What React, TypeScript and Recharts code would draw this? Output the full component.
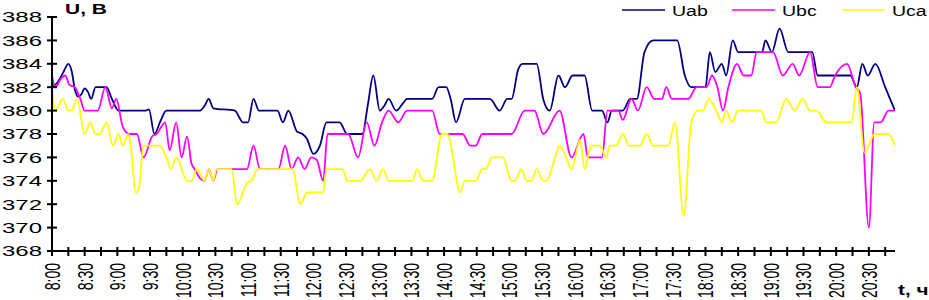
import React from 'react';
import { LineChart, Line, XAxis, YAxis } from 'recharts';

// minutes after 8:00, voltage
const UAB: [number, number][] = [
  [0, 382], [5, 382.4], [10, 383.2], [15, 384], [18, 383.4], [21, 381.8], [24, 381.2], [27, 381.4],
  [30, 381.9], [33, 381.6], [36, 381], [40, 382], [50, 382], [55, 381], [61, 380], [86, 380],
  [89, 380.1], [94, 378], [100, 379.2], [105, 380], [136, 380], [140, 380.4], [144, 381], [148, 380.2],
  [168, 380], [172, 379.4], [175, 379], [180, 379], [185, 381], [190, 380], [207, 380], [212, 379],
  [217, 380], [225, 378.2], [230, 378], [234, 377.6], [240, 376.3], [246, 377], [252, 379], [264, 379],
  [271, 378], [285, 378], [290, 380.5], [295, 383], [301, 380], [305, 380.4], [309, 381], [316, 380],
  [322, 380.6], [326, 381], [349, 381], [355, 382], [362, 382], [366, 381], [371, 379], [379, 381],
  [402, 381], [411, 380], [418, 381], [422, 381], [428, 383.5], [432, 384], [445, 384], [451, 381],
  [457, 380], [465, 383], [471, 382], [478, 383], [489, 383], [496, 380], [505, 380], [510, 379],
  [514, 380], [524, 380], [531, 381], [537, 381], [544, 385], [552, 386], [574, 386], [581, 383],
  [587, 382], [600, 382], [604, 385], [609, 383.3], [615, 384], [619, 383], [625, 386], [630, 385],
  [652, 385], [655, 386], [661, 385], [668, 387], [676, 385], [698, 385], [703, 383], [733, 383],
  [739, 382], [744, 384], [749, 383], [756, 384], [765, 382], [774, 380],
];

const UBC: [number, number][] = [
  [0, 383], [3, 382], [8, 382.7], [12, 383], [16, 382.2], [21, 382], [26, 381], [30, 380],
  [42, 380], [49, 382], [55, 380.2], [59, 381], [65, 378.6], [71, 378], [78, 378], [84, 376],
  [92, 377.8], [96, 378], [104, 379], [108, 376.6], [114, 379], [119, 376], [124, 377.8], [128, 375.5],
  [131, 375], [136, 374.2], [140, 374], [144, 375], [148, 374], [152, 375], [179, 375], [185, 377],
  [191, 375], [208, 375], [214, 377], [220, 375], [226, 376], [232, 375], [238, 376], [243, 375.8],
  [249, 374], [253, 378], [272, 378], [281, 376], [289, 379], [296, 377], [303, 379], [309, 380],
  [318, 379], [326, 380], [349, 380], [356, 378], [377, 378], [384, 377], [389, 377], [395, 378],
  [422, 378], [434, 380], [443, 380], [451, 378], [466, 380], [477, 376], [488, 378], [492, 376],
  [505, 376], [510, 380], [520, 380], [524, 379.2], [532, 381], [538, 380], [546, 382], [553, 381],
  [560, 381], [564, 382], [569, 381], [584, 381], [592, 382], [601, 382], [606, 383], [611, 382],
  [616, 380], [621, 382], [629, 384], [635, 383], [642, 383], [647, 385], [662, 385], [671, 383],
  [680, 384], [686, 383], [696, 385], [703, 382], [714, 382], [719, 383], [730, 384], [738, 382],
  [742, 381.5], [750, 370], [755, 379], [761, 379], [768, 380], [774, 380],
];

const UCA: [number, number][] = [
  [0, 382], [3, 380], [10, 381], [15, 380], [18, 380], [23, 381], [30, 378], [35, 379],
  [40, 378], [44, 378], [50, 379], [56, 377], [61, 378], [65, 377], [70, 378], [72, 377.2],
  [77, 373], [80, 373.5], [84, 377], [99, 377], [105, 376], [109, 375], [114, 376], [124, 374],
  [128, 374], [133, 375], [140, 374], [144, 375], [148, 374], [151, 375], [165, 375], [170, 372],
  [179, 373.8], [183, 374], [189, 375], [221, 375], [228, 372], [234, 373], [249, 373], [252, 375],
  [267, 375], [271, 374], [283, 374], [292, 375], [298, 374], [304, 375], [309, 374], [331, 374],
  [335, 375], [341, 374], [349, 374], [358, 378], [363, 378], [375, 373], [379, 374], [389, 374],
  [395, 375], [398, 375], [404, 376], [414, 376], [422, 374], [425, 374], [431, 375], [436, 374],
  [440, 374], [445, 375], [451, 374], [454, 374], [462, 376], [466, 377], [472, 376], [477, 375],
  [485, 377.5], [489, 375], [495, 377], [503, 377], [509, 376], [512, 377], [518, 377], [524, 378],
  [530, 377], [540, 377], [546, 378], [552, 377], [566, 377], [572, 379], [580, 371], [587, 379],
  [593, 380], [598, 380], [603, 381], [610, 380], [615, 379], [619, 380], [624, 379], [630, 380],
  [651, 380], [656, 379], [665, 379], [674, 381], [682, 380], [689, 381], [696, 380], [702, 380],
  [711, 379], [734, 379], [739, 382], [746, 376.4], [750, 377], [755, 378], [768, 378], [774, 377],
];

const Y_TICKS = [368, 370, 372, 374, 376, 378, 380, 382, 384, 386, 388];
const TIME_LABELS = [
  '8:00', '8:30', '9:00', '9:30', '10:00', '10:30', '11:00', '11:30', '12:00', '12:30',
  '13:00', '13:30', '14:00', '14:30', '15:00', '15:30', '16:00', '16:30', '17:00', '17:30',
  '18:00', '18:30', '19:00', '19:30', '20:00', '20:30',
];
// a tick every 15 min, a label every 30 min
const X_TICKS = TIME_LABELS.flatMap((_, i) => [i * 30, i * 30 + 15]);

const FONT = '"Liberation Sans", Arial, sans-serif';

const toRows = (pts: [number, number][]) => pts.map(([t, v]) => ({ t, v }));

const XTick = (props: any) => {
  const { x, y, payload } = props;
  const m = payload.value;
  const label = m % 30 === 0 ? TIME_LABELS[m / 30] : null;
  return (
    <g>
      <line x1={x} x2={x} y1={y - 4} y2={y + 5} stroke="#000" strokeWidth={2} />
      {label && (
        <g transform={`translate(${x},${y + 12}) scale(1.6,1) rotate(-90)`}>
          <text textAnchor="end" dy="0.35em" fontSize={14} fill="#000" fontFamily={FONT}>{label}</text>
        </g>
      )}
    </g>
  );
};

const YTick = (props: any) => {
  const { x, y, payload } = props;
  return (
    <g>
      <line x1={x - 5} x2={x + 5} y1={y} y2={y} stroke="#000" strokeWidth={2} />
      <g transform={`translate(${x - 10},${y}) scale(1.6,1)`}>
        <text textAnchor="end" dy="0.36em" fontSize={15} fill="#000" fontFamily={FONT}>{payload.value}</text>
      </g>
    </g>
  );
};

const LEGEND = [
  { name: 'Uab', color: '#000080', x: 622 },
  { name: 'Ubc', color: '#ff00ff', x: 732 },
  { name: 'Uca', color: '#ffff00', x: 842 },
];

export default function App() {
  return (
    <div style={{ position: 'absolute', left: 0, top: 0, width: 929, height: 300, background: '#fff' }}>
      <LineChart width={929} height={300} margin={{ top: 17, right: 34, bottom: 0, left: 0 }}>
        <XAxis
          dataKey="t"
          type="number"
          domain={[0, 774]}
          ticks={X_TICKS}
          interval={0}
          height={49}
          tickSize={0}
          tickMargin={0}
          tickLine={false}
          axisLine={{ stroke: '#000', strokeWidth: 2 }}
          tick={<XTick />}
          allowDataOverflow
        />
        <YAxis
          type="number"
          domain={[368, 388]}
          ticks={Y_TICKS}
          interval={0}
          width={52}
          tickSize={0}
          tickMargin={0}
          tickLine={false}
          axisLine={{ stroke: '#000', strokeWidth: 2 }}
          tick={<YTick />}
        />
        <Line data={toRows(UAB)} dataKey="v" type="monotone" stroke="#000080" strokeWidth={1.8} dot={false} activeDot={false} isAnimationActive={false} />
        <Line data={toRows(UBC)} dataKey="v" type="monotone" stroke="#ff00ff" strokeWidth={1.8} dot={false} activeDot={false} isAnimationActive={false} />
        <Line data={toRows(UCA)} dataKey="v" type="monotone" stroke="#ffff00" strokeWidth={1.8} dot={false} activeDot={false} isAnimationActive={false} />
      </LineChart>
      <svg width={929} height={300} style={{ position: 'absolute', left: 0, top: 0, pointerEvents: 'none' }}>
        <g transform="translate(65,14) scale(1.4,1)">
          <text fontSize={15} fontWeight="bold" fontFamily={FONT} fill="#000">U, В</text>
        </g>
        <g transform="translate(898,295) scale(1.38,1)">
          <text fontSize={15} fontWeight="bold" fontFamily={FONT} fill="#000">t, ч</text>
        </g>
        {LEGEND.map(l => (
          <g key={l.name}>
            <line x1={l.x} x2={l.x + 43} y1={10} y2={10} stroke={l.color} strokeWidth={1.5} />
            <g transform={`translate(${l.x + 50},15.5) scale(1.3,1)`}>
              <text fontSize={15} fontFamily={FONT} fill="#000">{l.name}</text>
            </g>
          </g>
        ))}
      </svg>
    </div>
  );
}
